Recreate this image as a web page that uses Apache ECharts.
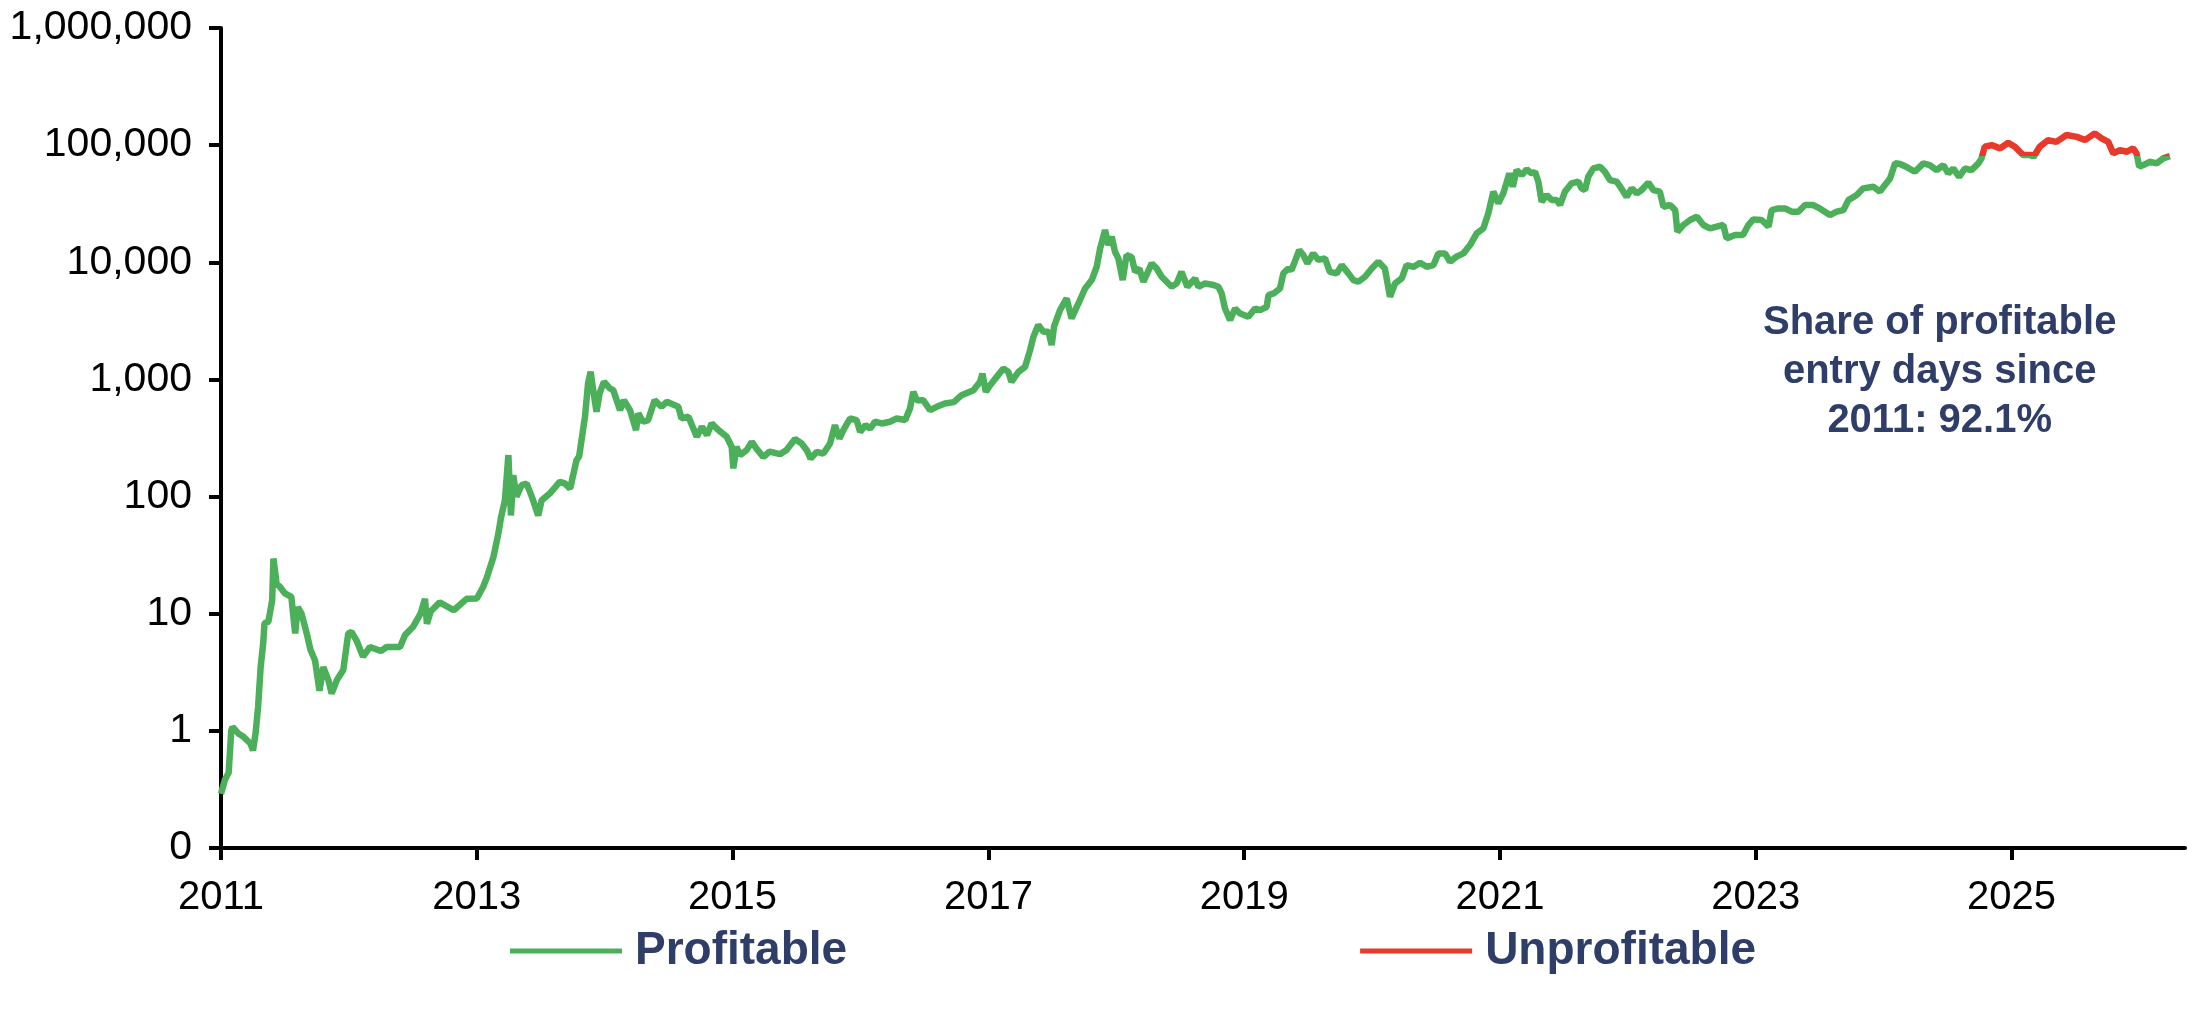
<!DOCTYPE html>
<html>
<head>
<meta charset="utf-8">
<script src="https://cdn.jsdelivr.net/npm/echarts@6/dist/echarts.min.js"></script>
<style>
	html,body{margin:0;padding:0;background:#fff;}
	#chart{width:2188px;height:1028px;}
</style>
</head>
<body>
<div id="chart"></div>
<script>
	// entry dates as decimal years
	var entryYears = [
		2011.00,2011.03,2011.06,2011.08,2011.09,2011.135,2011.17,2011.23,2011.25,2011.27,
		2011.29,2011.31,2011.33,2011.34,2011.37,2011.40,2011.41,2011.435,2011.46,2011.50,
		2011.55,2011.58,2011.60,2011.63,2011.67,2011.70,2011.735,2011.77,2011.80,2011.84,
		2011.865,2011.905,2011.956,2011.995,2012.02,2012.06,2012.11,2012.165,2012.25,2012.295,
		2012.40,2012.44,2012.50,2012.56,2012.595,2012.61,2012.64,2012.71,2012.82,2012.92,
		2013.00,2013.05,2013.08,2013.13,2013.168,2013.19,2013.22,2013.247,2013.267,2013.285,
		2013.31,2013.35,2013.39,2013.43,2013.48,2013.507,2013.57,2013.65,2013.69,2013.73,
		2013.78,2013.80,2013.846,2013.87,2013.89,2013.91,2013.936,2013.96,2013.994,2014.04,
		2014.067,2014.12,2014.15,2014.198,2014.245,2014.263,2014.30,2014.34,2014.39,2014.445,
		2014.485,2014.576,2014.60,2014.655,2014.72,2014.76,2014.80,2014.836,2014.89,2014.954,
		2014.993,2015.006,2015.03,2015.058,2015.11,2015.15,2015.188,2015.24,2015.29,2015.37,
		2015.42,2015.488,2015.54,2015.58,2015.61,2015.658,2015.71,2015.762,2015.80,2015.835,
		2015.866,2015.918,2015.97,2015.997,2016.04,2016.075,2016.114,2016.166,2016.23,2016.283,
		2016.35,2016.387,2016.413,2016.44,2016.49,2016.544,2016.596,2016.66,2016.73,2016.79,
		2016.883,2016.935,2016.953,2016.98,2017.013,2017.065,2017.117,2017.156,2017.18,2017.235,
		2017.287,2017.326,2017.352,2017.39,2017.43,2017.47,2017.495,2017.513,2017.56,2017.612,
		2017.65,2017.704,2017.756,2017.808,2017.847,2017.873,2017.912,2017.938,2017.964,2017.99,
		2018.016,2018.05,2018.08,2018.12,2018.147,2018.18,2018.212,2018.277,2018.316,2018.355,
		2018.394,2018.433,2018.472,2018.51,2018.556,2018.616,2018.642,2018.694,2018.76,2018.798,
		2018.824,2018.85,2018.89,2018.929,2018.968,2019.033,2019.085,2019.124,2019.176,2019.19,
		2019.23,2019.28,2019.306,2019.345,2019.37,2019.41,2019.43,2019.463,2019.494,2019.54,
		2019.58,2019.632,2019.67,2019.724,2019.763,2019.815,2019.854,2019.893,2019.945,2019.997,
		2020.049,2020.10,2020.14,2020.18,2020.232,2020.27,2020.323,2020.375,2020.427,2020.48,
		2020.518,2020.57,2020.61,2020.66,2020.714,2020.766,2020.818,2020.87,2020.909,2020.948,
		2020.987,2021.026,2021.073,2021.10,2021.13,2021.17,2021.209,2021.248,2021.274,2021.30,
		2021.326,2021.365,2021.404,2021.443,2021.47,2021.508,2021.56,2021.613,2021.638,2021.665,
		2021.69,2021.73,2021.782,2021.82,2021.86,2021.912,2021.94,2021.99,2022.03,2022.07,
		2022.108,2022.16,2022.20,2022.25,2022.278,2022.33,2022.37,2022.387,2022.434,2022.486,
		2022.54,2022.59,2022.642,2022.694,2022.746,2022.772,2022.838,2022.90,2022.942,2022.98,
		2023.046,2023.10,2023.124,2023.177,2023.229,2023.28,2023.333,2023.385,2023.45,2023.50,
		2023.54,2023.58,2023.633,2023.685,2023.724,2023.79,2023.84,2023.92,2023.97,2024.01,
		2024.05,2024.089,2024.128,2024.18,2024.244,2024.31,2024.36,2024.414,2024.466,2024.505,
		2024.544,2024.59,2024.635,2024.687,2024.74,2024.765,2024.79,2024.844,2024.91,2024.974,
		2025.026,2025.09,2025.157,2025.17,2025.22,2025.286,2025.35,2025.43,2025.51,2025.574,
		2025.65,2025.704,2025.756,2025.795,2025.847,2025.90,2025.95,2025.977,2025.998,2026.03,
		2026.08,2026.134,2026.186,2026.238
	];
	// price on each entry date (USD)
	var btcPrice = [
		0.29,0.38,0.44,1.0,1.08,0.95,0.9,0.78,0.68,0.95,
		1.6,3.5,5.6,8.3,8.5,13,29.6,18,17,14.9,
		13.9,6.8,11.4,10,6.8,4.9,4.0,2.2,3.5,2.7,
		2.08,2.7,3.3,6.8,7,5.9,4.3,5.2,4.8,5.2,
		5.2,6.6,7.7,10,13.4,8.2,10.5,12.5,10.7,13.4,
		13.5,17,20.6,30.5,48,67,93,226,69,152,
		100,125,129,100,69,93,106,134,129,117,
		205,220,480,925,1162,811,530,760,955,838,
		811,547,665,547,369,512,435,450,665,584,
		644,584,465,480,324,394,335,421,369,324,
		266,174,266,226,249,293,255,218,242,230,
		249,310,284,249,211,241,233,284,407,313,
		369,464,450,357,407,380,435,421,435,464,
		450,565,784,665,665,547,584,623,640,734,
		809,955,1122,784,893,1052,1239,1161,955,1161,
		1282,1779,2311,2909,2553,2553,1963,2818,3908,4912,
		3311,4453,5980,7047,9160,13000,18840,14030,16520,12300,
		10800,7047,11510,11100,8290,8850,6820,9770,8850,7530,
		6820,6180,6600,8290,6180,7280,6180,6600,6400,6180,
		5420,4036,3210,4036,3656,3427,4036,3900,4170,5250,
		5420,5980,8040,8850,8560,11140,12700,11510,9770,11910,
		10480,10800,8290,8040,9460,8040,7050,6820,7530,8850,
		10110,8850,5080,6600,7280,9460,9130,9900,9160,9460,
		11910,11910,10110,11170,11910,14030,17650,19480,26180,40090,
		31850,38730,57370,44160,61330,55560,62130,57370,59200,48750,
		32890,37500,33960,33960,30830,40090,47200,48750,42760,41380,
		53780,63400,65480,59200,50350,48750,44160,36300,42760,38730,
		41380,47860,41380,40090,29790,30830,27900,18240,20800,22950,
		24480,20800,19480,20150,20800,16000,17100,17100,20800,23240,
		22950,20150,27900,28840,28840,27030,27030,30830,30830,28840,
		27030,25290,27030,27900,33960,37500,42760,44160,40090,45710,
		52000,70000,69000,65000,59300,69800,67600,61200,67600,57400,
		63200,53700,63200,61200,69800,77100,96900,100100,93800,104900,
		96900,82300,82300,78500,96900,110500,106700,121900,117700,110500,
		125900,114300,106700,85100,90800,87800,93800,85100,65500,67600,
		72100,69800,77100,80500
	];
	var yearTicks = [2011,2013,2015,2017,2019,2021,2023,2025];
	var seriesNames = ['Profitable','Unprofitable'];
	var noteText = 'Share of profitable\nentry days since\n2011: 92.1%';

	var green = '#4CAF5A';
	var red = '#E8392B';
	var navy = '#2F3E68';
	var font = 'Liberation Sans, Arial, sans-serif';

	// entry is unprofitable when price paid is above the latest price
	var breakEven = btcPrice[btcPrice.length-1];

	var lineData = [];
	for(var i=0;i<entryYears.length;i++){
		lineData.push([entryYears[i], btcPrice[i]]);
	}

	var chart = echarts.init(document.getElementById('chart'), null, {renderer:'canvas'});
	var option = {
		animation:false,
		backgroundColor:'#fff',
		grid:{
			left:221,
			right:3,
			top:28,
			bottom:180,
			containLabel:false,
			outerBoundsMode:'none'
		},
		legend:{
			left:505,
			top:923,
			icon:'rect',
			itemWidth:112,
			itemHeight:5,
			itemGap:513,
			selectedMode:false,
			textStyle:{
				fontSize:46,
				fontWeight:'bold',
				color:navy,
				fontFamily:font,
				padding:[0,0,0,8]
			},
			data:seriesNames
		},
		// red above the break-even price, green below
		visualMap:{
			type:'piecewise',
			show:false,
			seriesIndex:0,
			dimension:1,
			pieces:[
				{gte:breakEven, lte:10000000, color:red},
				{gte:0.001, lt:breakEven, color:green}
			]
		},
		graphic:[
			{
				type:'text',
				left:1943 - 180,
				top:298,
				style:{
					text:noteText,
					x:180,
					textAlign:'center',
					fill:navy,
					fontSize:40,
					fontWeight:'bold',
					fontFamily:font,
					lineHeight:49
				}
			}
		],
		xAxis:{
			type:'value',
			min:2011,
			max:2026.356,
			splitLine:{show:false},
			axisLine:{lineStyle:{color:'#000', width:4}},
			axisTick:{
				show:true,
				length:12,
				customValues:yearTicks,
				lineStyle:{color:'#000', width:4}
			},
			axisLabel:{
				customValues:yearTicks,
				margin:30,
				fontSize:40,
				color:'#000',
				fontFamily:font,
				formatter:function(v){ return String(Math.round(v)); }
			}
		},
		yAxis:{
			type:'log',
			logBase:10,
			min:0.1,
			max:1000000,
			splitNumber:7,
			splitLine:{show:false},
			axisLine:{show:true, lineStyle:{color:'#000', width:4}},
			axisTick:{show:true, length:12, lineStyle:{color:'#000', width:4}},
			axisLabel:{
				margin:29,
				fontSize:41,
				color:'#000',
				fontFamily:font,
				formatter:function(v){
					if(v < 1) return '0';
					return Math.round(v).toLocaleString('en-US');
				}
			}
		},
		series:[
			{
				name:seriesNames[0],
				type:'line',
				showSymbol:false,
				itemStyle:{color:green},
				lineStyle:{width:6.5},
				data:lineData
			},
			{
				name:seriesNames[1],
				type:'line',
				showSymbol:false,
				itemStyle:{color:red},
				lineStyle:{width:6.5, color:red},
				data:[]
			}
		]
	};
	chart.setOption(option);
</script>
</body>
</html>
